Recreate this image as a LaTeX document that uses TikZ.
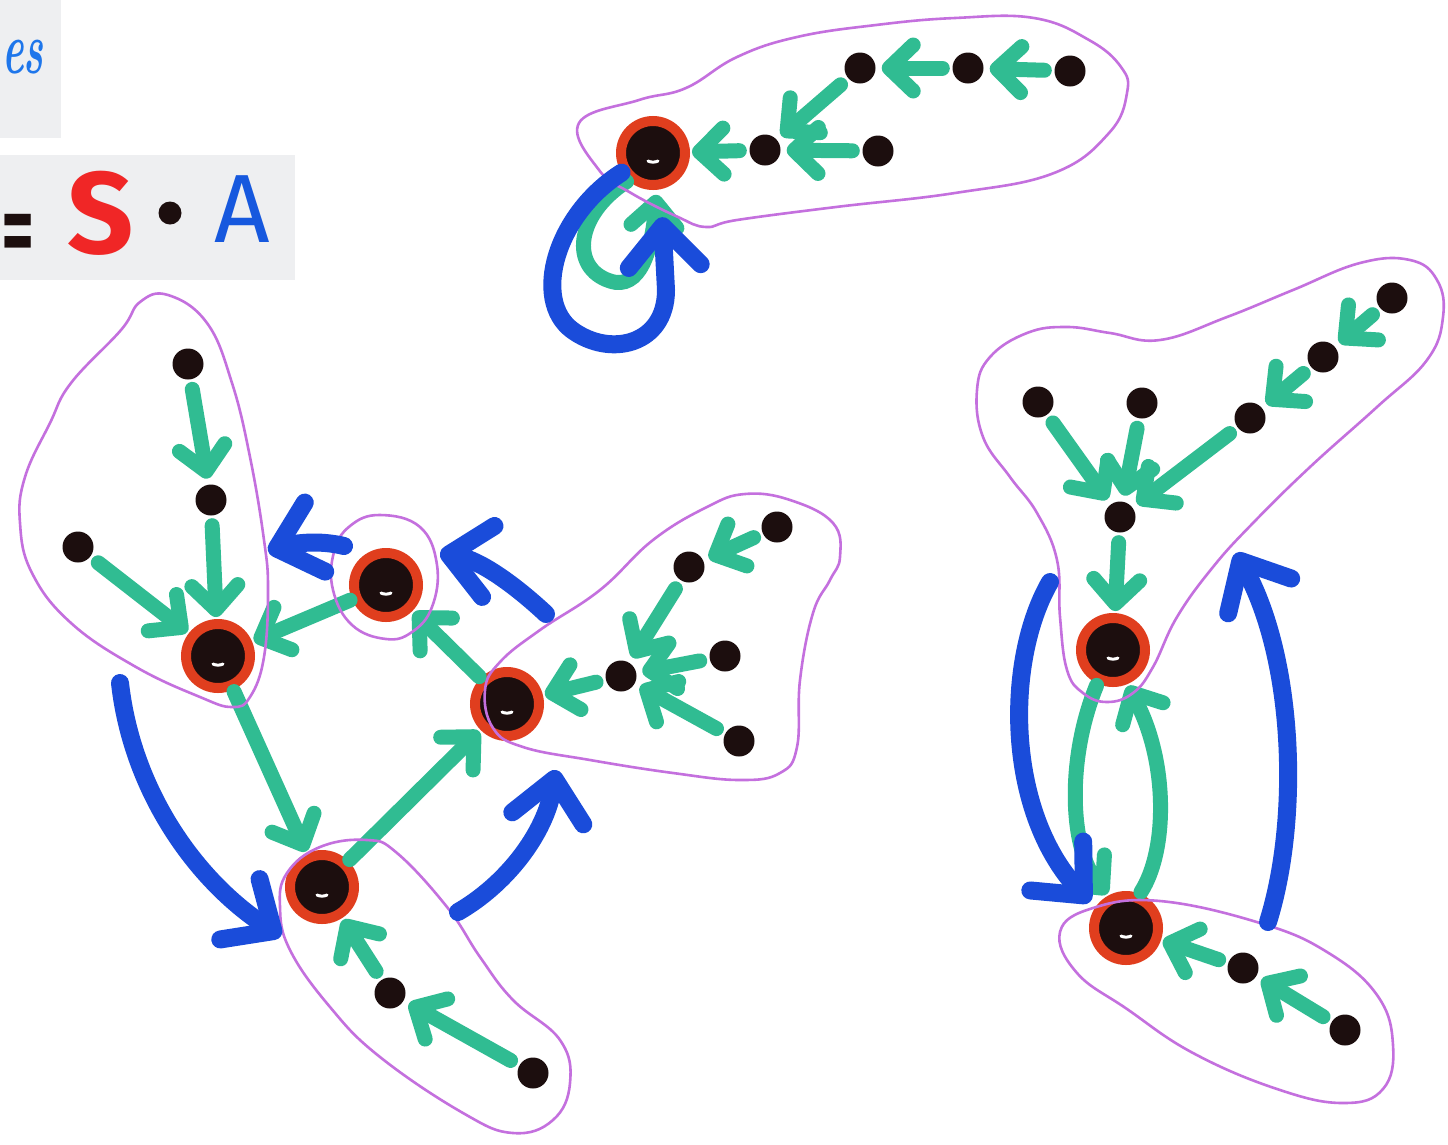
\documentclass[tikz,border=0pt]{standalone}
\usepackage{fontspec}
\newfontfamily\firasans{Fira Sans}
\newfontfamily\dejavusans{DejaVu Sans}
\usetikzlibrary{arrows.meta}

\definecolor{mgreen}{RGB}{48,188,146}
\definecolor{mblue}{RGB}{26,76,218}
\definecolor{mpurple}{RGB}{196,112,222}
\definecolor{mred}{RGB}{224,62,30}
\definecolor{inkblack}{RGB}{28,14,14}
\definecolor{tred}{RGB}{240,38,38}
\definecolor{tblue}{RGB}{22,88,222}
\definecolor{esblue}{RGB}{30,118,235}
\definecolor{boxgray}{RGB}{238,239,241}

\tikzset{
  garrow/.style={draw=mgreen, line width=15pt, line cap=round,
    -{Straight Barb[length=24pt,width=46pt,round]},
    shorten <=10pt, shorten >=6pt},
  barrow/.style={draw=mblue, line width=18pt, line cap=round,
    -{Straight Barb[length=40pt,width=72pt,round]}},
  blob/.style={draw=mpurple, line width=2.6pt},
  dot/.style={circle, fill=inkblack, minimum size=31pt, inner sep=0pt},
  root/.style={circle, fill=inkblack, draw=mred, line width=10pt,
    minimum size=64pt, inner sep=0pt,
    path picture={\draw[white, line width=3pt, line cap=round]
      ([shift={(-5,8)}]path picture bounding box.center)
      .. controls +(3,1.5) and +(-3,1.5) .. +(10,0);}},
}

\begin{document}
\begin{tikzpicture}[x=1pt,y=-1pt]
\useasboundingbox (0,0) rectangle (1448,1144);
\clip (0,0) rectangle (1448,1144);
\fill[white] (0,0) rectangle (1448,1144);

% caption cards in the corner
\fill[boxgray] (0,0) rectangle (61,138);
\fill[boxgray] (0,155) rectangle (295,280);
\node[anchor=base west, inner sep=0pt, text=esblue] (es) at (2,73)
  {\scalebox{0.55}[1]{\fontsize{74}{74}\selectfont\bfseries\itshape es}};
\node[anchor=base west, inner sep=0pt, text=inkblack] (eq) at (0,262)
  {\scalebox{0.42}[1]{\dejavusans\bfseries\fontsize{100}{100}\selectfont =}};
\node[anchor=base, inner sep=0pt, text=tred] (S) at (101,253)
  {\firasans\bfseries\fontsize{116}{116}\selectfont S};
\node[circle, fill=inkblack, minimum size=23pt, inner sep=0pt] (op) at (170,213) {};
\node[anchor=base, inner sep=0pt, text=tblue] (A) at (242,242)
  {\firasans\fontsize{97}{97}\selectfont A};

% ---------- top component ----------
\node[root] (T) at (653,153) {};
\node[dot] (a1) at (860,68) {};
\node[dot] (a2) at (968,68) {};
\node[dot] (a3) at (1070,71) {};
\node[dot] (b1) at (765,150) {};
\node[dot] (b2) at (878,151) {};

% ---------- left component ----------
\node[root] (L) at (218,656) {};
\node[root] (M) at (386,585) {};
\node[root] (R) at (507,704) {};
\node[root] (B) at (322,887) {};
\node[dot] (d1) at (188,364) {};
\node[dot] (d2) at (211,500) {};
\node[dot] (d3) at (78,547) {};
\node[dot] (e1) at (777,527) {};
\node[dot] (e2) at (689,567) {};
\node[dot] (e3) at (621,676) {};
\node[dot] (e4) at (725,656) {};
\node[dot] (e5) at (739,741) {};
\node[dot] (f1) at (390,993) {};
\node[dot] (f2) at (533,1073) {};

% ---------- right component ----------
\node[root] (U) at (1113,650) {};
\node[root] (V) at (1126,928) {};
\node[dot] (g1) at (1038,402) {};
\node[dot] (g2) at (1142,403) {};
\node[dot] (g3) at (1250,418) {};
\node[dot] (g4) at (1323,357) {};
\node[dot] (g5) at (1392,298) {};
\node[dot] (h) at (1120,517) {};
\node[dot] (k1) at (1243,968) {};
\node[dot] (k2) at (1345,1030) {};

% ---------- green edges ----------
\draw[garrow] (a3) -- (a2);
\draw[garrow] (a2) -- (a1);
\draw[garrow] (a1) -- (b1);
\draw[garrow] (b2) -- (b1);
\draw[garrow, shorten >=2pt] (b1) -- (T);
\draw[garrow, shorten <=2pt, shorten >=5pt]
  (T.228) .. controls (575,215) and (570,268) .. (610,281)
  .. controls (640,291) and (652,250) .. (T.276);

\draw[garrow] (d1) -- (d2);
\draw[garrow, shorten >=2pt] (d2) -- (L);
\draw[garrow, shorten >=2pt] (d3) -- (L);
\draw[garrow, shorten <=2pt, shorten >=2pt] (M) -- (L);
\draw[garrow, shorten <=2pt, shorten >=2pt] (L) -- (B);
\draw[garrow, shorten <=2pt, shorten >=2pt] (R) -- (M);
\draw[garrow, shorten <=2pt, shorten >=2pt] (B) -- (R);
\draw[garrow, shorten >=2pt] (e3) -- (R);
\draw[garrow] (e1) -- (e2);
\draw[garrow] (e2) -- (e3);
\draw[garrow] (e4) -- (e3);
\draw[garrow] (e5) -- (e3);
\draw[garrow, shorten >=2pt] (f1) -- (B);
\draw[garrow] (f2) -- (f1);

\draw[garrow] (g5) -- (g4);
\draw[garrow] (g4) -- (g3);
\draw[garrow] (g3) -- (h);
\draw[garrow] (g1) -- (h);
\draw[garrow] (g2) -- (h);
\draw[garrow, shorten >=2pt] (h) -- (U);
\draw[garrow, shorten <=2pt, shorten >=2pt]
  (U.245) .. controls (1066,760) and (1070,850) .. (V.118);
\draw[garrow, shorten <=2pt, shorten >=2pt]
  (V.68) .. controls (1168,850) and (1168,760) .. (U.292);
\draw[garrow, shorten >=2pt] (k1) -- (V);
\draw[garrow] (k2) -- (k1);

% ---------- purple outlines ----------
\draw[blob] plot[smooth cycle, tension=0.7] coordinates {
  (579,123) (639,100) (686,88) (737,57) (797,37) (876,25) (955,18)
  (1034,18) (1089,40) (1121,67) (1127,93) (1109,133) (1054,173)
  (955,193) (836,207) (737,220) (706,227) (678,217) (631,193) (599,170)};
\draw[blob] plot[smooth cycle, tension=0.7] coordinates {
  (168,295) (207,323) (232,383) (250,457) (264,540) (268,590) (264,657)
  (250,697) (232,707) (200,697) (136,667) (71,623) (32,573) (20,523)
  (25,477) (50,423) (71,383) (121,330) (140,302)};
\draw[blob] plot[smooth cycle, tension=0.7] coordinates {
  (380,515) (420,527) (437,565) (432,607) (412,632) (386,639) (352,625)
  (333,590) (334,552) (350,526)};
\draw[blob] plot[smooth cycle, tension=0.7] coordinates {
  (485,690) (500,662) (540,630) (600,590) (653,540) (707,507) (745,494)
  (790,500) (833,523) (840,557) (830,580) (813,613) (800,680) (797,747)
  (780,773) (740,780) (673,773) (590,760) (523,747) (493,728)};
\draw[blob] plot[smooth cycle, tension=0.7] coordinates {
  (320,847) (367,840) (397,853) (447,907) (480,957) (513,1000) (560,1040)
  (570,1083) (553,1120) (513,1133) (463,1113) (380,1057) (330,1007)
  (290,950) (280,907) (287,873)};
\draw[blob] plot[smooth cycle, tension=0.7] coordinates {
  (1067,327) (1110,333) (1160,340) (1227,317) (1293,290) (1360,263)
  (1410,260) (1437,280) (1443,317) (1427,360) (1377,407) (1310,467)
  (1253,523) (1213,567) (1177,617) (1153,667) (1133,693) (1107,702)
  (1083,693) (1067,670) (1060,617) (1057,560) (1037,513) (1010,477)
  (983,437) (977,390) (990,357) (1027,333)};
\draw[blob] plot[smooth cycle, tension=0.7] coordinates {
  (1060,932) (1093,908) (1160,901) (1260,923) (1327,952) (1377,995)
  (1393,1045) (1383,1089) (1343,1103) (1277,1089) (1193,1053)
  (1127,1009) (1077,973)};

% ---------- blue arrows ----------
\draw[barrow, shorten >=28pt]
  (T.212) .. controls (555,215) and (532,300) .. (572,330)
  .. controls (610,358) and (666,345) .. (666,290) -- (T.282);

\coordinate (ba1s) at (120,683);
\coordinate (ba1e) at (281,936);
\draw[barrow] (ba1s) .. controls (132,790) and (195,880) .. (ba1e);
\coordinate (ba2s) at (458,912);
\coordinate (ba2e) at (556,770);
\draw[barrow] (ba2s) .. controls (505,885) and (545,835) .. (ba2e);
\coordinate (ba3s) at (546,614);
\coordinate (ba3e) at (440,553);
\draw[barrow] (ba3s) .. controls (515,585) and (480,560) .. (ba3e);
\coordinate (ba4s) at (344,546);
\coordinate (ba4e) at (268,551);
\draw[barrow] (ba4s) .. controls (320,540) and (295,543) .. (ba4e);

\coordinate (br1s) at (1050,582);
\coordinate (br1e) at (1090,902);
\draw[barrow] (br1s) .. controls (1005,660) and (1005,810) .. (br1e);
\coordinate (br2s) at (1268,922);
\coordinate (br2e) at (1236,553);
\draw[barrow] (br2s) .. controls (1300,820) and (1295,660) .. (br2e);
\end{tikzpicture}
\end{document}
